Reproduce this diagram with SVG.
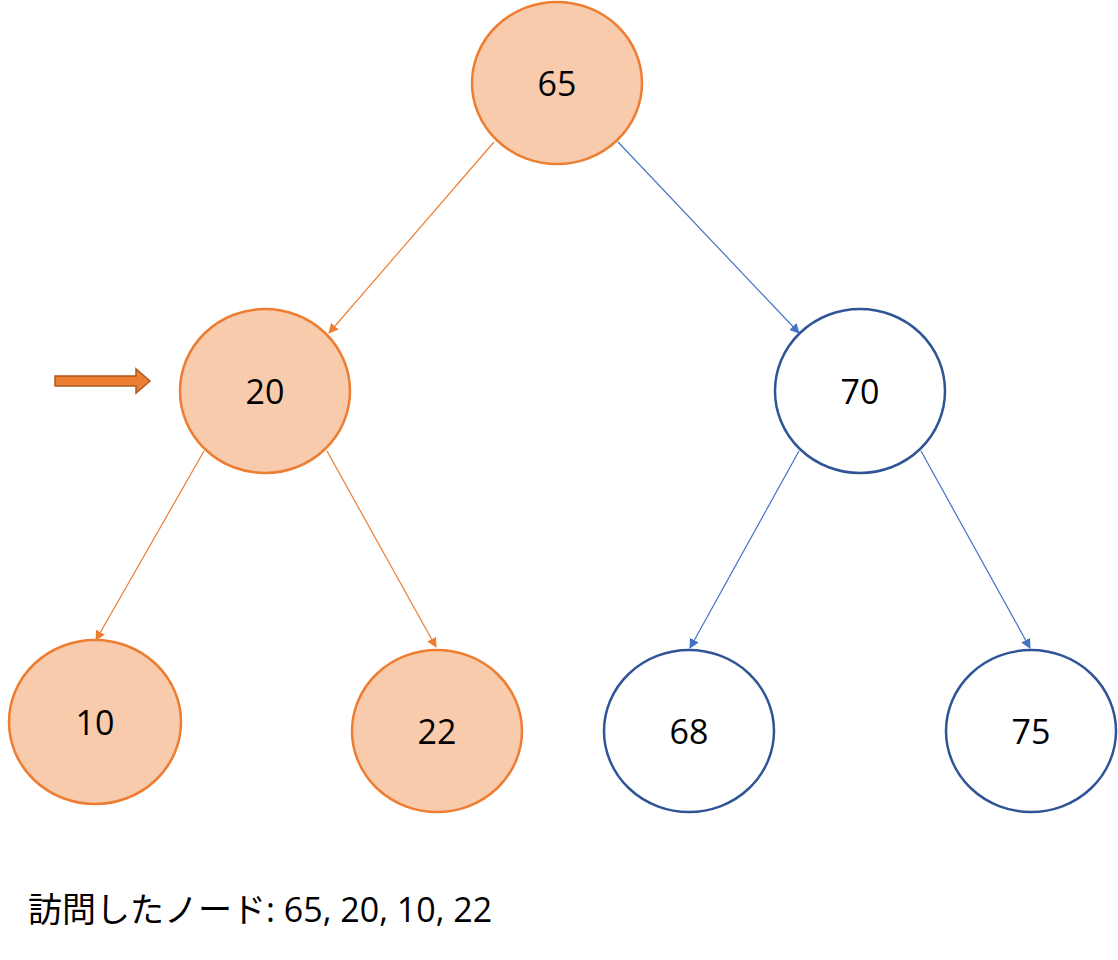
<svg xmlns="http://www.w3.org/2000/svg" width="1118" height="960" viewBox="0 0 1118 960">
<style>
.v{fill:#F8CBAD;stroke:#ED7D31;stroke-width:2.5}
.u{fill:#fff;stroke:#2F5597;stroke-width:2.5}
.t{font-family:"Open Sans","Noto Sans",sans-serif;font-size:34px;text-anchor:middle;fill:#000}
.eo{stroke:#ED7D31;stroke-width:1.2;fill:none;marker-end:url(#mo)}
.eb{stroke:#4472C4;stroke-width:1.2;fill:none;marker-end:url(#mb)}
</style>
<defs>
<marker id="mo" markerWidth="10" markerHeight="10" refX="9" refY="5" orient="auto" markerUnits="userSpaceOnUse"><path d="M0,0L10,5L0,10z" fill="#ED7D31"/></marker>
<marker id="mb" markerWidth="10" markerHeight="10" refX="9" refY="5" orient="auto" markerUnits="userSpaceOnUse"><path d="M0,0L10,5L0,10z" fill="#4472C4"/></marker>
</defs>
<rect width="1118" height="960" fill="#fff"/>
<g id="connectors">
<line class="eo" x1="494" y1="142" x2="329" y2="333"/>
<line class="eb" x1="618" y1="142" x2="799" y2="333"/>
<line class="eo" x1="204" y1="451" x2="96" y2="640"/>
<line class="eo" x1="327" y1="451" x2="436" y2="647"/>
<line class="eb" x1="799" y1="451" x2="690" y2="648"/>
<line class="eb" x1="921" y1="451" x2="1030" y2="648"/>
</g>
<g id="n65"><ellipse class="v" cx="557" cy="83" rx="85" ry="81"/><text class="t" x="557" y="96">65</text></g>
<g id="n20"><ellipse class="v" cx="265" cy="391" rx="85" ry="82"/><text class="t" x="265" y="404">20</text></g>
<g id="n70"><ellipse class="u" cx="860" cy="391" rx="85" ry="82"/><text class="t" x="860" y="404">70</text></g>
<g id="n10"><ellipse class="v" cx="95" cy="722" rx="86" ry="82"/><text class="t" x="95" y="735">10</text></g>
<g id="n22"><ellipse class="v" cx="437" cy="731" rx="85" ry="81"/><text class="t" x="437" y="744">22</text></g>
<g id="n68"><ellipse class="u" cx="689" cy="731" rx="85" ry="81"/><text class="t" x="689" y="744">68</text></g>
<g id="n75"><ellipse class="u" cx="1031" cy="731" rx="85" ry="81"/><text class="t" x="1031" y="744">75</text></g>
<g id="pointer"><path d="M55,376H136V369L150,381L136,393V386H55Z" fill="#ED7D31" stroke="#AE5A21" stroke-width="1.5"/></g>
<text x="28" y="922" style="font-family:'Open Sans','Noto Sans CJK JP',sans-serif;font-size:34px">訪問したノード: 65, 20, 10, 22</text>
</svg>
